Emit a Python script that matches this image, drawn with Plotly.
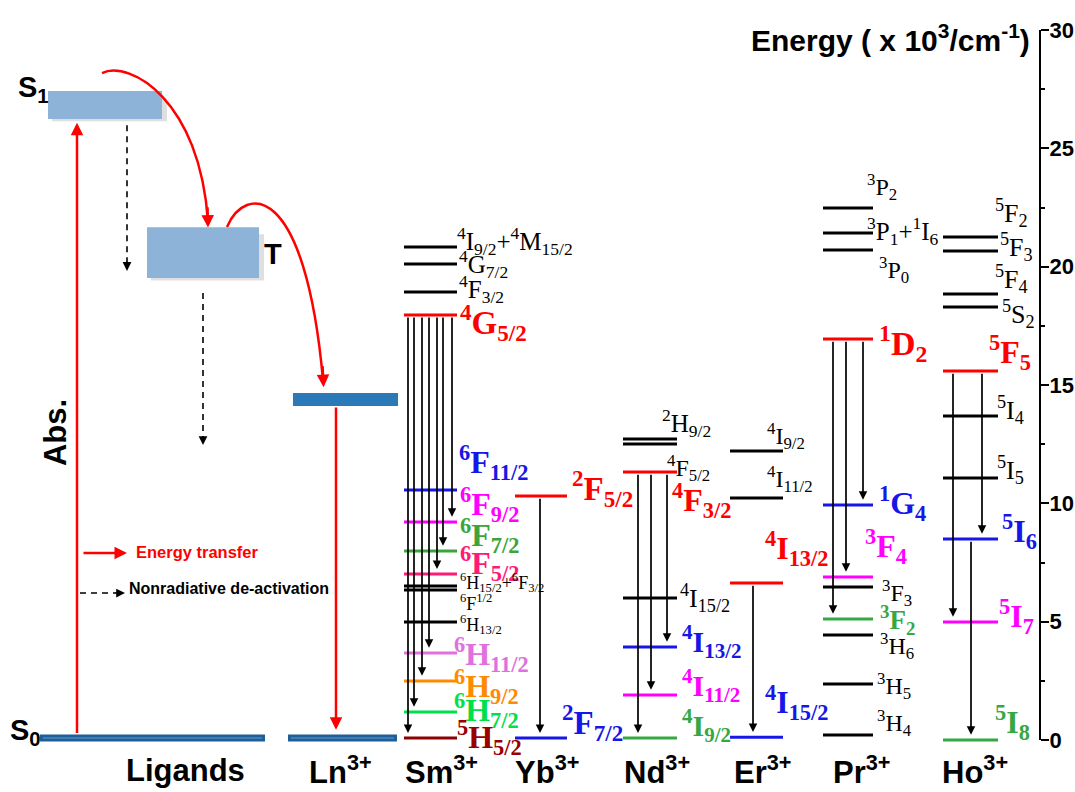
import plotly.graph_objects as go

# ---------------------------------------------------------------
# Energy-level data, in units of 10^3 cm^-1
# ---------------------------------------------------------------
ligand_states = ["S1", "T", "Ln"]
ligand_low = [26.24, 19.52, 14.11]
ligand_high = [27.42, 21.67, 14.66]
ground = 0.08

sm_levels = [20.83, 20.11, 18.93, 17.96, 10.56, 9.21, 7.99, 7.01, 6.51, 6.34, 4.99, 3.68, 2.49, 1.18, 0.08]
sm_terms = ["<sup>4</sup>I<sub>9/2</sub>+<sup>4</sup>M<sub>15/2</sub>", "<sup>4</sup>G<sub>7/2</sub>",
            "<sup>4</sup>F<sub>3/2</sub>", "<sup>4</sup>G<sub>5/2</sub>", "<sup>6</sup>F<sub>11/2</sub>",
            "<sup>6</sup>F<sub>9/2</sub>", "<sup>6</sup>F<sub>7/2</sub>", "<sup>6</sup>F<sub>5/2</sub>",
            "<sup>6</sup>H<sub>15/2</sub>+<sup>6</sup>F<sub>3/2</sub>", "<sup>6</sup>F<sup>1/2</sup>",
            "<sup>6</sup>H<sub>13/2</sub>", "<sup>6</sup>H<sub>11/2</sub>", "<sup>6</sup>H<sub>9/2</sub>",
            "<sup>6</sup>H<sub>7/2</sub>", "<sup>5</sup>H<sub>5/2</sub>"]
sm_from = [3, 3, 3, 3, 3, 3, 3]
sm_to = [14, 13, 12, 11, 7, 6, 5]

yb_levels = [10.31, 0.08]
yb_terms = ["<sup>2</sup>F<sub>5/2</sub>", "<sup>2</sup>F<sub>7/2</sub>"]
yb_from = [0]
yb_to = [1]

nd_levels = [12.72, 12.51, 11.32, 6.00, 3.93, 1.90, 0.08]
nd_terms = ["<sup>2</sup>H<sub>9/2</sub>", "<sup>4</sup>F<sub>5/2</sub>", "<sup>4</sup>F<sub>3/2</sub>",
            "<sup>4</sup>I<sub>15/2</sub>", "<sup>4</sup>I<sub>13/2</sub>", "<sup>4</sup>I<sub>11/2</sub>",
            "<sup>4</sup>I<sub>9/2</sub>"]
nd_from = [2, 2, 2]
nd_to = [6, 5, 4]

er_levels = [12.21, 10.22, 6.63, 0.12]
er_terms = ["<sup>4</sup>I<sub>9/2</sub>", "<sup>4</sup>I<sub>11/2</sub>", "<sup>4</sup>I<sub>13/2</sub>",
            "<sup>4</sup>I<sub>15/2</sub>"]
er_from = [2]
er_to = [3]

pr_levels = [22.48, 21.42, 20.70, 16.94, 9.93, 6.89, 6.46, 5.11, 4.44, 2.37, 0.21]
pr_terms = ["<sup>3</sup>P<sub>2</sub>", "<sup>3</sup>P<sub>1</sub>+<sup>1</sup>I<sub>6</sub>",
            "<sup>3</sup>P<sub>0</sub>", "<sup>1</sup>D<sub>2</sub>", "<sup>1</sup>G<sub>4</sub>",
            "<sup>3</sup>F<sub>4</sub>", "<sup>3</sup>F<sub>3</sub>", "<sup>3</sup>F<sub>2</sub>",
            "<sup>3</sup>H<sub>6</sub>", "<sup>3</sup>H<sub>5</sub>", "<sup>3</sup>H<sub>4</sub>"]
pr_from = [3, 3, 3]
pr_to = [7, 5, 4]

ho_levels = [21.25, 20.66, 18.84, 18.30, 15.59, 13.69, 11.07, 8.49, 4.99, 0.0]
ho_terms = ["<sup>5</sup>F<sub>2</sub>", "<sup>5</sup>F<sub>3</sub>", "<sup>5</sup>F<sub>4</sub>",
            "<sup>5</sup>S<sub>2</sub>", "<sup>5</sup>F<sub>5</sub>", "<sup>5</sup>I<sub>4</sub>",
            "<sup>5</sup>I<sub>5</sub>", "<sup>5</sup>I<sub>6</sub>", "<sup>5</sup>I<sub>7</sub>",
            "<sup>5</sup>I<sub>8</sub>"]
ho_from = [4, 4, 7]
ho_to = [8, 7, 9]

ion_names = ["Sm", "Yb", "Nd", "Er", "Pr", "Ho"]
axis_ticks = [0, 5, 10, 15, 20, 25, 30]

# ---------------------------------------------------------------
# Styling / layout
# ---------------------------------------------------------------
W, H = 1075, 792
PX_PER_UNIT = 23.667
E_TOP = 740 / PX_PER_UNIT          # energy at the upper edge of the page
E_BOTTOM = -52 / PX_PER_UNIT       # energy at the lower edge of the page

RED = "#ff0000"
BLUE = "#1616e8"
MAG = "#ff00ff"
GRN = "#35a843"
BLK = "#000000"
SANS = "Arial, Liberation Sans, sans-serif"
SERIF = "Times New Roman, Liberation Serif, serif"

columns = {
    "Sm": dict(levels=sm_levels, terms=sm_terms, fr=sm_from, to=sm_to, x0=404, x1=457,
               colors=[BLK, BLK, BLK, RED, BLUE, MAG, "#3ba53b", "#ff1a75", BLK, BLK, BLK,
                       "#e070de", "#ff8a00", "#00e04a", "#8b0000"],
               lx=[455, 457, 457, 458, 457, 458, 458, 458, 458, 458, 458, 452, 452, 452, 455],
               dy=[0.25, 0.0, 0.13, -0.34, 1.18, 0.72, 0.63, 0.46, 0.13, -0.55, -0.13, -0.08, -0.21, 0.08, 0.04],
               size=[25, 25, 25, 33, 32, 32, 32, 32, 18, 18, 18, 32, 32, 32, 32],
               ax=[408, 414, 422, 429, 437, 443, 452]),
    "Yb": dict(levels=yb_levels, terms=yb_terms, fr=yb_from, to=yb_to, x0=515, x1=567,
               colors=[RED, BLUE], lx=[570, 560], dy=[0.30, 0.68], size=[33, 33], ax=[540]),
    "Nd": dict(levels=nd_levels, terms=nd_terms, fr=nd_from, to=nd_to, x0=623, x1=677,
               colors=[BLK, BLK, RED, BLK, BLUE, MAG, GRN],
               lx=[660, 665, 670, 678, 680, 680, 680],
               dy=[0.68, -1.01, -1.18, 0.0, 0.25, 0.42, 0.55],
               size=[25, 24, 32, 26, 30, 30, 30], ax=[638, 651, 667]),
    "Er": dict(levels=er_levels, terms=er_terms, fr=er_from, to=er_to, x0=730, x1=783,
               colors=[BLK, BLK, RED, BLUE], lx=[765, 765, 763, 763],
               dy=[0.63, 0.80, 1.48, 1.48], size=[24, 24, 32, 32], ax=[753]),
    "Pr": dict(levels=pr_levels, terms=pr_terms, fr=pr_from, to=pr_to, x0=823, x1=873,
               colors=[BLK, BLK, BLK, RED, BLUE, MAG, BLK, GRN, BLK, BLK, BLK],
               lx=[865, 865, 877, 877, 877, 863, 880, 878, 878, 875, 875],
               dy=[0.89, 0.08, -0.85, -0.17, 0.08, 1.27, -0.25, -0.04, -0.46, -0.08, 0.51],
               size=[24, 25, 24, 34, 32, 32, 24, 27, 24, 24, 24], ax=[833, 846, 863]),
    "Ho": dict(levels=ho_levels, terms=ho_terms, fr=ho_from, to=ho_to, x0=943, x1=998,
               colors=[BLK, BLK, BLK, BLK, RED, BLK, BLK, BLUE, MAG, GRN],
               lx=[993, 998, 993, 1000, 987, 995, 995, 1000, 997, 993],
               dy=[1.01, 0.17, 0.63, -0.30, 0.80, 0.25, 0.34, 0.30, 0.21, 0.72],
               size=[26, 26, 26, 26, 32, 26, 26, 32, 32, 32], ax=[953, 982, 971]),
}
ion_label_x = [441, 547, 657, 762, 861, 975]

shapes = []
annotations = []


def hline(x0, x1, e, color, width=3):
    shapes.append(dict(type="line", xref="x", yref="y", x0=x0, x1=x1, y0=e, y1=e,
                       line=dict(color=color, width=width)))


def arrow(x, e_tail, e_head, color=BLK, width=1.8, size=1.0, x_tail=None):
    annotations.append(dict(x=x, y=e_head, ax=x if x_tail is None else x_tail, ay=e_tail,
                            xref="x", yref="y", axref="x", ayref="y", text="",
                            showarrow=True, arrowhead=2, arrowsize=size, arrowwidth=width,
                            arrowcolor=color, standoff=0))


def text(x, e, s, size, color=BLK, family=SERIF, bold=False, xanchor="left", angle=0):
    annotations.append(dict(x=x, y=e, xref="x", yref="y", text=s, showarrow=False,
                            xanchor=xanchor, yanchor="middle", textangle=angle,
                            font=dict(family=family, size=size, color=color,
                                      weight="bold" if bold else "normal")))


# ---------------- ligand part ----------------
s1_lo, t_lo, ln_lo = ligand_low
s1_hi, t_hi, ln_hi = ligand_high
box_x = {"S1": (48, 162), "T": (147, 259), "Ln": (293, 398)}
box_col = {"S1": "#8db3d9", "T": "#8db3d9", "Ln": "#2a7ab8"}
for name, lo, hi in zip(ligand_states, ligand_low, ligand_high):
    x0, x1 = box_x[name]
    if name != "Ln":
        shapes.append(dict(type="rect", xref="x", yref="y", x0=x0 + 4, x1=x1 + 5, y0=lo - 0.1, y1=hi - 0.3,
                           line=dict(width=0), fillcolor="rgba(150,150,150,0.3)"))
    shapes.append(dict(type="rect", xref="x", yref="y", x0=x0, x1=x1, y0=lo, y1=hi,
                       line=dict(width=0), fillcolor=box_col[name]))

# S0 ground bars
for x0, x1 in [(40, 265), (288, 397)]:
    hline(x0, x1, ground, "#1f5f99", 7)
    hline(x0 + 3, x1 - 3, ground, "#4d86c0", 1.5)

# absorption and Ln emission
arrow(77, ground + 0.15, s1_lo - 0.16, RED, 2.5, 1.0)
arrow(336, ln_lo, ground + 0.35, RED, 2.5, 1.0)

# energy-transfer curves S1 -> T -> Ln
c1 = [(102, s1_hi + 0.76), (130, s1_hi + 1.31), (200, s1_hi - 0.38), (208, t_hi + 0.22)]
c2 = [(227, t_hi + 0.01), (245, t_hi + 1.78), (305, t_hi + 1.99), (323, ln_hi + 0.55)]
for c in (c1, c2):
    path = "M {},{} C {},{} {},{} {},{}".format(*[v for p in c for v in p])
    shapes.append(dict(type="path", xref="x", yref="y", path=path, line=dict(color=RED, width=2.5)))
arrow(208, t_hi + 0.9, t_hi - 0.02, RED, 2.5, 1.0, x_tail=207.5)
arrow(323.6, ln_hi + 1.2, ln_hi + 0.25, RED, 2.5, 1.0, x_tail=322.5)

# non-radiative (dashed) decays
for x, e0, e1 in [(127, s1_lo - 0.26, t_lo + 0.3), (203, t_lo - 0.63, ln_lo - 1.65)]:
    shapes.append(dict(type="line", xref="x", yref="y", x0=x, x1=x, y0=e0, y1=e1 + 0.3,
                       line=dict(color=BLK, width=1.6, dash="6px,5px")))
    arrow(x, e1 + 0.45, e1, BLK, 1.6, 1.1)

# legend
leg_e1 = 7.90
leg_e2 = 6.21
arrow(127, leg_e1, leg_e1, RED, 2.5, 1.0, x_tail=82)
text(134, leg_e1 + 0.03, "Energy transfer", 16.5, RED, SANS, True)
shapes.append(dict(type="line", xref="x", yref="y", x0=80, x1=116, y0=leg_e2, y1=leg_e2,
                   line=dict(color=BLK, width=1.6, dash="6px,5px")))
arrow(125, leg_e2, leg_e2, BLK, 1.6, 1.1, x_tail=114)
text(127, leg_e2 + 0.2, "Nonradiative de-activation", 16, BLK, SANS, True)

# ligand labels
text(16, s1_hi + 0.1, "S<sub>1</sub>", 29, BLK, SANS, True)
text(262, (t_lo + t_hi) / 2 - 0.05, "T", 29, BLK, SANS, True)
text(8, ground + 0.25, "S<sub>0</sub>", 29, BLK, SANS, True)
text(55, 12.97, "Abs.", 31, BLK, SANS, True, xanchor="center", angle=-90)

# ---------------- lanthanide columns ----------------
for ion in ion_names:
    col = columns[ion]
    lev = col["levels"]
    for i, e in enumerate(lev):
        hline(col["x0"], col["x1"], e, col["colors"][i], 3)
        colored = col["colors"][i] != BLK
        text(col["lx"][i], e + col["dy"][i], col["terms"][i], col["size"][i],
             col["colors"][i] if col["colors"][i] != "#8b0000" else "#990000",
             SERIF, colored)
    for k, (a, b) in enumerate(zip(col["fr"], col["to"])):
        arrow(col["ax"][k], lev[a] - 0.05, lev[b] + 0.22, BLK, 1.7, 1.0)

# bottom row labels
bottom_e = -1.27
text(185, bottom_e, "Ligands", 31, BLK, SANS, True, xanchor="center")
text(340, bottom_e, "Ln<sup>3+</sup>", 31, BLK, SANS, True, xanchor="center")
for name, x in zip(ion_names, ion_label_x):
    text(x, bottom_e, name + "<sup>3+</sup>", 31, BLK, SANS, True, xanchor="center")

# axis title
text(1032, 29.66, "Energy ( x 10<sup>3</sup>/cm<sup>-1</sup>)", 30, BLK, SANS, True, xanchor="right")

fig = go.Figure()
fig.add_trace(go.Scatter(x=[None], y=[None], yaxis="y2", showlegend=False, hoverinfo="skip"))
fig.update_layout(
    width=W, height=H, margin=dict(l=0, r=0, t=0, b=0, pad=0, autoexpand=False),
    paper_bgcolor="white", plot_bgcolor="white", showlegend=False,
    xaxis=dict(range=[0, W], visible=False, fixedrange=True, automargin=False),
    yaxis=dict(range=[E_BOTTOM, E_TOP], visible=False, fixedrange=True, domain=[0, 1],
               automargin=False),
    yaxis2=dict(range=[0, 30], domain=[52 / H, 762 / H], anchor="free", position=1040 / W,
                side="right", showline=True, linecolor=BLK, linewidth=2, showgrid=False,
                zeroline=False, tickvals=axis_ticks, ticks="outside", ticklen=8, tickwidth=2,
                tickcolor=BLK, automargin=False, fixedrange=True, ticklabelstandoff=-4,
                minor=dict(tickvals=[2.5, 7.5, 12.5, 17.5, 22.5, 27.5], ticks="outside", ticklen=4,
                           tickwidth=1.5, tickcolor=BLK),
                tickfont=dict(family=SANS, size=22, color=BLK, weight="bold")),
    shapes=shapes, annotations=annotations,
)
fig.write_html("out.html")
